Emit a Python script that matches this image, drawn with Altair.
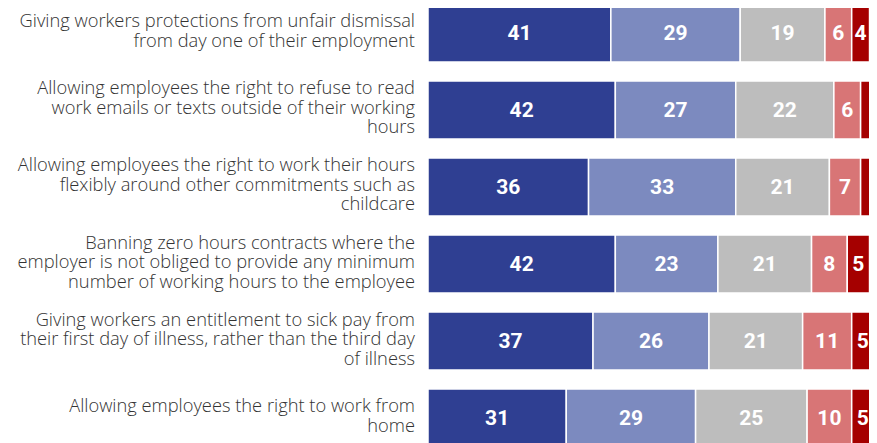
import altair as alt
import pandas as pd

statements = [
    "Giving workers protections from unfair dismissal\nfrom day one of their employment",
    "Allowing employees the right to refuse to read\nwork emails or texts outside of their working\nhours",
    "Allowing employees the right to work their hours\nflexibly around other commitments such as\nchildcare",
    "Banning zero hours contracts where the\nemployer is not obliged to provide any minimum\nnumber of working hours to the employee",
    "Giving workers an entitlement to sick pay from\ntheir first day of illness, rather than the third day\nof illness",
    "Allowing employees the right to work from\nhome",
]
categories = ["Strongly support", "Tend to support", "Neither support nor oppose",
              "Tend to oppose", "Strongly oppose"]
colors = ["#2f3f92", "#7c8abf", "#bdbdbd", "#d87576", "#a50000"]

strongly_support = [41, 42, 36, 42, 37, 31]
tend_support = [29, 27, 33, 23, 26, 29]
neither = [19, 22, 21, 21, 21, 25]
tend_oppose = [6, 6, 7, 8, 11, 10]
strongly_oppose = [4, 3, 3, 5, 5, 5]

series = [strongly_support, tend_support, neither, tend_oppose, strongly_oppose]
rows = []
for si, s in enumerate(statements):
    for ci, c in enumerate(categories):
        v = series[ci][si]
        rows.append({"statement": s, "category": c, "idx": ci, "value": v,
                     "label": str(v) if v >= 4 else ""})
df = pd.DataFrame(rows)

yscale = alt.Scale(range=[-4, 439], paddingInner=0.247, paddingOuter=0)
y = alt.Y("statement:N", sort=statements, axis=None, scale=yscale)
xscale = alt.Scale(domain=[0, 100], range=[0, 446], nice=False, zero=True)

base = alt.Chart(df).transform_stack(
    stack="value", groupby=["statement"], sort=[alt.SortField("idx")], as_=["x0", "x1"]
).transform_calculate(mid="(datum.x0 + datum.x1) / 2")

bars = base.mark_bar(stroke="white", strokeWidth=1.5).encode(
    y=y,
    x=alt.X("x0:Q", axis=None, scale=xscale),
    x2="x1:Q",
    color=alt.Color("category:N", scale=alt.Scale(domain=categories, range=colors), legend=None),
)

nums = base.mark_text(font="Roboto", fontWeight="bold", fontSize=21, color="white",
                      align="center", baseline="middle", dy=1).encode(
    y=y,
    x=alt.X("mid:Q", axis=None, scale=xscale),
    text="label:N",
)

LH = 19.5
layers = [bars, nums]
for n in (2, 3):
    sub = pd.DataFrame({"statement": [s for s in statements if s.count("\n") + 1 == n]})
    layers.append(alt.Chart(sub).mark_text(
        align="right", baseline="middle", lineBreak="\n", font="Open Sans", fontSize=18.3,
        fontWeight=300, lineHeight=LH, color="#333333", dy=-(n - 1) * LH / 2 - 1
    ).encode(
        y=y,
        x=alt.value(-13),
        text="statement:N",
    ))

chart = alt.layer(*layers).properties(
    width=441, height=435, autosize="none",
    padding={"left": 420, "top": 0, "right": 0, "bottom": 0},
    background="white",
).configure_view(stroke=None)

chart.save("out.html", embed_options={"renderer": "svg", "actions": False})
